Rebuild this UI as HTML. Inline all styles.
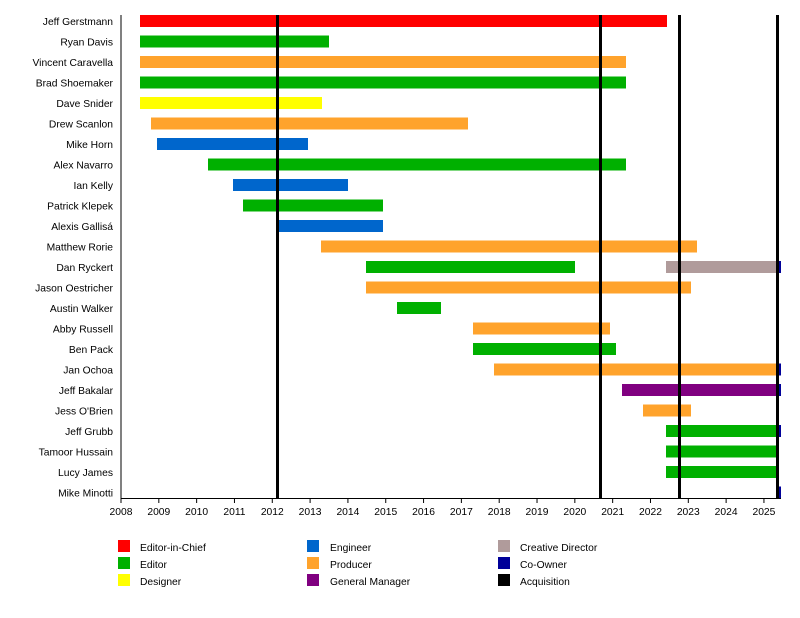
<!DOCTYPE html>
<html><head><meta charset="utf-8"><style>
body{margin:0;background:#fff}
svg{display:block;font-family:"Liberation Sans",sans-serif;font-size:10.3px}
</style></head><body>
<svg width="800" height="618" viewBox="0 0 800 618">
<g id="bars">
<rect x="140" y="15" width="527" height="12" fill="#ff0000"/>
<rect x="140" y="35.5" width="189" height="12" fill="#00b000"/>
<rect x="140" y="56" width="486" height="12" fill="#ffa32c"/>
<rect x="140" y="76.5" width="486" height="12" fill="#00b000"/>
<rect x="140" y="97" width="182" height="12" fill="#ffff00"/>
<rect x="151" y="117.5" width="317" height="12" fill="#ffa32c"/>
<rect x="157" y="138" width="151" height="12" fill="#0066cc"/>
<rect x="208" y="158.5" width="418" height="12" fill="#00b000"/>
<rect x="233" y="179" width="115" height="12" fill="#0066cc"/>
<rect x="243" y="199.5" width="140" height="12" fill="#00b000"/>
<rect x="278" y="220" width="105" height="12" fill="#0066cc"/>
<rect x="321" y="240.5" width="376" height="12" fill="#ffa32c"/>
<rect x="366" y="261" width="209" height="12" fill="#00b000"/>
<rect x="666" y="261" width="111" height="12" fill="#b09b9b"/>
<rect x="777" y="261" width="4" height="12" fill="#000099"/>
<rect x="366" y="281.5" width="325" height="12" fill="#ffa32c"/>
<rect x="397" y="302" width="44" height="12" fill="#00b000"/>
<rect x="473" y="322.5" width="137" height="12" fill="#ffa32c"/>
<rect x="473" y="343" width="143" height="12" fill="#00b000"/>
<rect x="494" y="363.5" width="283" height="12" fill="#ffa32c"/>
<rect x="777" y="363.5" width="4" height="12" fill="#000099"/>
<rect x="622" y="384" width="155" height="12" fill="#800080"/>
<rect x="777" y="384" width="4" height="12" fill="#000099"/>
<rect x="643" y="404.5" width="48" height="12" fill="#ffa32c"/>
<rect x="666" y="425" width="111" height="12" fill="#00b000"/>
<rect x="777" y="425" width="4" height="12" fill="#000099"/>
<rect x="666" y="445.5" width="111" height="12" fill="#00b000"/>
<rect x="666" y="466" width="111" height="12" fill="#00b000"/>
<rect x="777" y="486.5" width="4" height="12" fill="#000099"/>
</g>
<g fill="#000">
<rect x="276" y="15" width="3" height="483"/>
<rect x="599" y="15" width="3" height="483"/>
<rect x="678" y="15" width="3" height="483"/>
<rect x="776" y="15" width="3" height="483"/>
</g>
<line x1="121" y1="15" x2="121" y2="498.5" stroke="#000"/>
<line x1="121" y1="498.5" x2="781" y2="498.5" stroke="#000"/>
<g stroke="#000" id="ticks"></g>
<g text-anchor="end" fill="#000">
<text x="113" y="25">Jeff Gerstmann</text>
<text x="113" y="45.5">Ryan Davis</text>
<text x="113" y="66">Vincent Caravella</text>
<text x="113" y="86.5">Brad Shoemaker</text>
<text x="113" y="107">Dave Snider</text>
<text x="113" y="127.5">Drew Scanlon</text>
<text x="113" y="148">Mike Horn</text>
<text x="113" y="168.5">Alex Navarro</text>
<text x="113" y="189">Ian Kelly</text>
<text x="113" y="209.5">Patrick Klepek</text>
<text x="113" y="230">Alexis Gallisá</text>
<text x="113" y="250.5">Matthew Rorie</text>
<text x="113" y="271">Dan Ryckert</text>
<text x="113" y="291.5">Jason Oestricher</text>
<text x="113" y="312">Austin Walker</text>
<text x="113" y="332.5">Abby Russell</text>
<text x="113" y="353">Ben Pack</text>
<text x="113" y="373.5">Jan Ochoa</text>
<text x="113" y="394">Jeff Bakalar</text>
<text x="113" y="414.5">Jess O'Brien</text>
<text x="113" y="435">Jeff Grubb</text>
<text x="113" y="455.5">Tamoor Hussain</text>
<text x="113" y="476">Lucy James</text>
<text x="113" y="496.5">Mike Minotti</text>
</g>
<g text-anchor="middle" fill="#000" id="years"></g>
<g>
<rect x="118" y="540" width="12" height="12" fill="#ff0000"/><text x="140" y="551">Editor-in-Chief</text>
<rect x="118" y="557" width="12" height="12" fill="#00b000"/><text x="140" y="568">Editor</text>
<rect x="118" y="574" width="12" height="12" fill="#ffff00"/><text x="140" y="585">Designer</text>
<rect x="307" y="540" width="12" height="12" fill="#0066cc"/><text x="330" y="551">Engineer</text>
<rect x="307" y="557" width="12" height="12" fill="#ffa32c"/><text x="330" y="568">Producer</text>
<rect x="307" y="574" width="12" height="12" fill="#800080"/><text x="330" y="585">General Manager</text>
<rect x="498" y="540" width="12" height="12" fill="#b09b9b"/><text x="520" y="551">Creative Director</text>
<rect x="498" y="557" width="12" height="12" fill="#000099"/><text x="520" y="568">Co-Owner</text>
<rect x="498" y="574" width="12" height="12" fill="#000000"/><text x="520" y="585">Acquisition</text>
</g>
</svg>
<script>
var t=document.getElementById('ticks'),y=document.getElementById('years'),ns='http://www.w3.org/2000/svg';
for(var i=0;i<=17;i++){var x=121+i*37.82;
var l=document.createElementNS(ns,'line');l.setAttribute('x1',x);l.setAttribute('x2',x);l.setAttribute('y1',498);l.setAttribute('y2',503);t.appendChild(l);
var tx=document.createElementNS(ns,'text');tx.setAttribute('x',x);tx.setAttribute('y',515);tx.textContent=2008+i;y.appendChild(tx);}
</script>
</body></html>
